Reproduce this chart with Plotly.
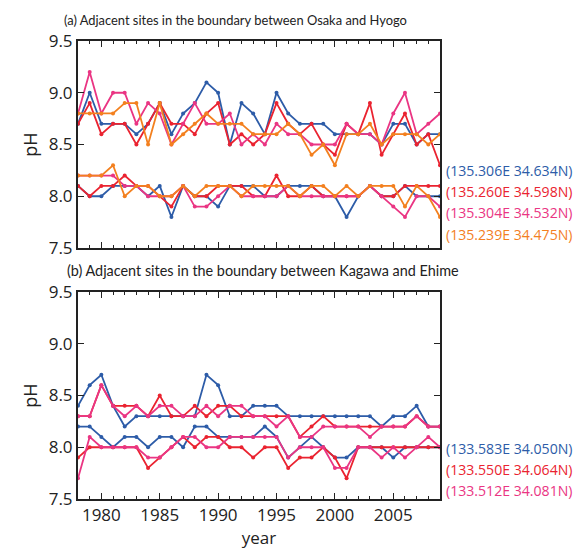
import plotly.graph_objects as go

years = list(range(1978, 2010))

# (a) Osaka / Hyogo boundary: upper and lower pH series per site
a_blue_hi = [8.7, 9.0, 8.7, 8.7, 8.7, 8.6, 8.7, 8.9, 8.6, 8.8, 8.9, 9.1, 9.0, 8.5, 8.9, 8.8,
             8.6, 9.0, 8.8, 8.7, 8.7, 8.7, 8.6, 8.6, 8.6, 8.6, 8.5, 8.7, 8.7, 8.5, 8.6, 8.6]
a_red_hi = [8.7, 8.9, 8.6, 8.7, 8.7, 8.5, 8.7, 8.9, 8.7, 8.7, 8.6, 8.8, 8.9, 8.5, 8.6, 8.5,
            8.6, 8.9, 8.7, 8.6, 8.7, 8.5, 8.4, 8.7, 8.6, 8.9, 8.4, 8.6, 8.8, 8.5, 8.6, 8.3]
a_pink_hi = [8.8, 9.2, 8.8, 9.0, 9.0, 8.7, 8.9, 8.8, 8.5, 8.7, 8.9, 8.7, 8.7, 8.8, 8.5, 8.6,
             8.5, 8.7, 8.6, 8.6, 8.5, 8.5, 8.5, 8.7, 8.6, 8.6, 8.5, 8.8, 9.0, 8.6, 8.7, 8.8]
a_orange_hi = [8.8, 8.8, 8.8, 8.8, 8.9, 8.9, 8.5, 8.9, 8.5, 8.6, 8.7, 8.8, 8.7, 8.7, 8.7, 8.6,
               8.6, 8.6, 8.7, 8.6, 8.4, 8.5, 8.3, 8.6, 8.6, 8.7, 8.5, 8.6, 8.6, 8.6, 8.5, 8.6]

a_blue_lo = [8.1, 8.0, 8.0, 8.1, 8.1, 8.1, 8.0, 8.1, 7.8, 8.1, 8.0, 8.0, 7.9, 8.1, 8.1, 8.1,
             8.0, 8.0, 8.1, 8.1, 8.1, 8.0, 8.0, 7.8, 8.0, 8.1, 8.0, 8.0, 8.1, 8.0, 8.0, 8.0]
a_red_lo = [8.1, 8.0, 8.1, 8.1, 8.2, 8.1, 8.1, 8.0, 7.9, 8.1, 8.0, 8.0, 8.1, 8.1, 8.1, 8.0,
            8.0, 8.2, 8.0, 8.0, 8.1, 8.0, 8.0, 8.0, 8.0, 8.1, 8.0, 8.0, 8.1, 8.1, 8.1, 8.1]
a_pink_lo = [8.2, 8.2, 8.2, 8.2, 8.1, 8.1, 8.0, 8.0, 8.0, 8.1, 7.9, 7.9, 8.0, 8.1, 8.0, 8.0,
             8.0, 8.0, 8.1, 8.0, 8.0, 8.0, 8.0, 8.0, 8.0, 8.1, 8.0, 7.9, 7.8, 8.0, 8.0, 7.9]
a_orange_lo = [8.2, 8.2, 8.2, 8.3, 8.0, 8.1, 8.1, 8.0, 8.0, 8.1, 8.0, 8.1, 8.1, 8.1, 8.0, 8.1,
               8.1, 8.1, 8.1, 8.0, 8.1, 8.1, 8.0, 8.1, 8.0, 8.1, 8.1, 8.1, 7.9, 8.1, 8.0, 7.8]

# (b) Kagawa / Ehime boundary
b_blue_hi = [8.4, 8.6, 8.7, 8.4, 8.2, 8.3, 8.3, 8.3, 8.3, 8.3, 8.3, 8.7, 8.6, 8.3, 8.3, 8.4,
             8.4, 8.4, 8.3, 8.3, 8.3, 8.3, 8.3, 8.3, 8.3, 8.3, 8.2, 8.3, 8.3, 8.4, 8.2, 8.2]
b_red_hi = [8.3, 8.3, 8.6, 8.4, 8.4, 8.4, 8.3, 8.5, 8.3, 8.3, 8.4, 8.3, 8.4, 8.4, 8.3, 8.3,
            8.3, 8.3, 8.3, 8.1, 8.2, 8.3, 8.2, 8.2, 8.2, 8.2, 8.2, 8.2, 8.2, 8.3, 8.2, 8.2]
b_pink_hi = [8.3, 8.3, 8.6, 8.4, 8.3, 8.4, 8.3, 8.4, 8.4, 8.3, 8.3, 8.4, 8.3, 8.4, 8.4, 8.3,
             8.3, 8.2, 8.3, 8.1, 8.1, 8.2, 8.2, 8.2, 8.2, 8.1, 8.2, 8.2, 8.2, 8.3, 8.2, 8.2]

b_blue_lo = [8.2, 8.2, 8.1, 8.0, 8.1, 8.1, 8.0, 8.1, 8.1, 8.0, 8.2, 8.2, 8.1, 8.1, 8.1, 8.1,
             8.2, 8.1, 7.9, 8.0, 8.1, 8.0, 7.9, 7.9, 8.0, 8.0, 8.0, 7.9, 8.0, 8.0, 8.0, 8.0]
b_red_lo = [7.9, 8.0, 8.0, 8.0, 8.0, 8.0, 7.8, 7.9, 8.0, 8.1, 8.0, 8.1, 8.1, 8.0, 8.0, 7.9,
            8.0, 8.0, 7.8, 7.9, 7.9, 8.0, 7.9, 7.7, 8.0, 8.0, 8.0, 8.0, 8.0, 8.0, 8.0, 8.0]
b_pink_lo = [7.7, 8.1, 8.0, 8.0, 8.0, 8.0, 7.9, 7.9, 8.0, 8.1, 8.1, 8.0, 8.0, 8.1, 8.1, 8.1,
             8.1, 8.1, 7.9, 8.0, 8.0, 8.0, 7.8, 7.8, 8.0, 8.0, 7.9, 8.0, 7.9, 8.0, 8.1, 8.0]

a_sites = ["(135.306E 34.634N)", "(135.260E 34.598N)", "(135.304E 34.532N)", "(135.239E 34.475N)"]
b_sites = ["(133.583E 34.050N)", "(133.550E 34.064N)", "(133.512E 34.081N)"]

title_a = "(a) Adjacent sites in the boundary between Osaka and Hyogo"
title_b = "(b) Adjacent sites in the boundary between Kagawa and Ehime"

BLUE, RED, PINK, ORANGE = "#2D5CA8", "#EA2330", "#EA3583", "#F3801F"
INK = "#222222"

a_series = [(a_blue_hi, a_blue_lo, BLUE), (a_red_hi, a_red_lo, RED),
            (a_pink_hi, a_pink_lo, PINK), (a_orange_hi, a_orange_lo, ORANGE)]
b_series = [(b_blue_hi, b_blue_lo, BLUE), (b_red_hi, b_red_lo, RED),
            (b_pink_hi, b_pink_lo, PINK)]

fig = go.Figure()


def add_panel(series, xa, ya):
    for hi, lo, col in series:
        for vals in (hi, lo):
            fig.add_trace(go.Scatter(
                x=years, y=vals, xaxis=xa, yaxis=ya, mode="lines+markers",
                line=dict(color=col, width=1.8), marker=dict(color=col, size=4),
                showlegend=False, hoverinfo="skip", cliponaxis=False))


add_panel(a_series, "x", "y")
add_panel(b_series, "x2", "y2")

tickfont = dict(family="Open Sans, Noto Sans, sans-serif", size=17, color=INK)

xcommon = dict(range=[1978, 2009], tick0=1980, dtick=5, ticks="inside", ticklen=6,
               tickcolor=INK, showline=True, linecolor=INK, linewidth=2, mirror="ticks",
               showgrid=False, zeroline=False, tickfont=tickfont,
               minor=dict(dtick=1, ticks="inside", ticklen=3, tickcolor=INK))
ycommon = dict(range=[7.5, 9.5], dtick=0.5, tickformat=".1f", ticks="inside", ticklen=6,
               tickcolor=INK, showline=True, linecolor=INK, linewidth=2, mirror="ticks",
               showgrid=False, zeroline=False, tickfont=tickfont,
               title=dict(text="pH", font=dict(family="Open Sans, sans-serif", size=18, color=INK),
                          standoff=6))

fig.update_layout(
    width=578, height=550,
    margin=dict(l=78, r=138, t=41, b=49),
    paper_bgcolor="white", plot_bgcolor="white",
    xaxis=dict(domain=[0, 1], anchor="y", showticklabels=False, **xcommon),
    yaxis=dict(domain=[0.548, 1.0], anchor="x", **ycommon),
    xaxis2=dict(domain=[0, 1], anchor="y2",
                title=dict(text="year", font=dict(family="Open Sans, sans-serif", size=17, color=INK),
                           standoff=0),
                **xcommon),
    yaxis2=dict(domain=[0.0, 0.452], anchor="x2", **ycommon),
)

fig.add_annotation(text=title_a, xref="paper", yref="paper", x=-0.045, y=1.0, yshift=11,
                   xanchor="left", yanchor="bottom", showarrow=False,
                   font=dict(family="Lato, Open Sans, sans-serif", size=12.9, color=INK))
fig.add_annotation(text=title_b, xref="paper", yref="paper", x=-0.035, y=0.452, yshift=11,
                   xanchor="left", yanchor="bottom", showarrow=False,
                   font=dict(family="Lato, Open Sans, sans-serif", size=14.4, color=INK))

label_font = dict(family="Open Sans, sans-serif", size=14.1)
for i, (name, (_, _, col)) in enumerate(zip(a_sites, a_series)):
    fig.add_annotation(text=name, xref="paper", yref="y", x=1.0, xshift=4,
                       y=8.25 - i * 0.205, xanchor="left", yanchor="middle",
                       showarrow=False, font=dict(color=col, **label_font))
for i, (name, (_, _, col)) in enumerate(zip(b_sites, b_series)):
    fig.add_annotation(text=name, xref="paper", yref="y2", x=1.0, xshift=4,
                       y=7.985 - i * 0.2, xanchor="left", yanchor="middle",
                       showarrow=False, font=dict(color=col, **label_font))

fig.write_html("out.html")
